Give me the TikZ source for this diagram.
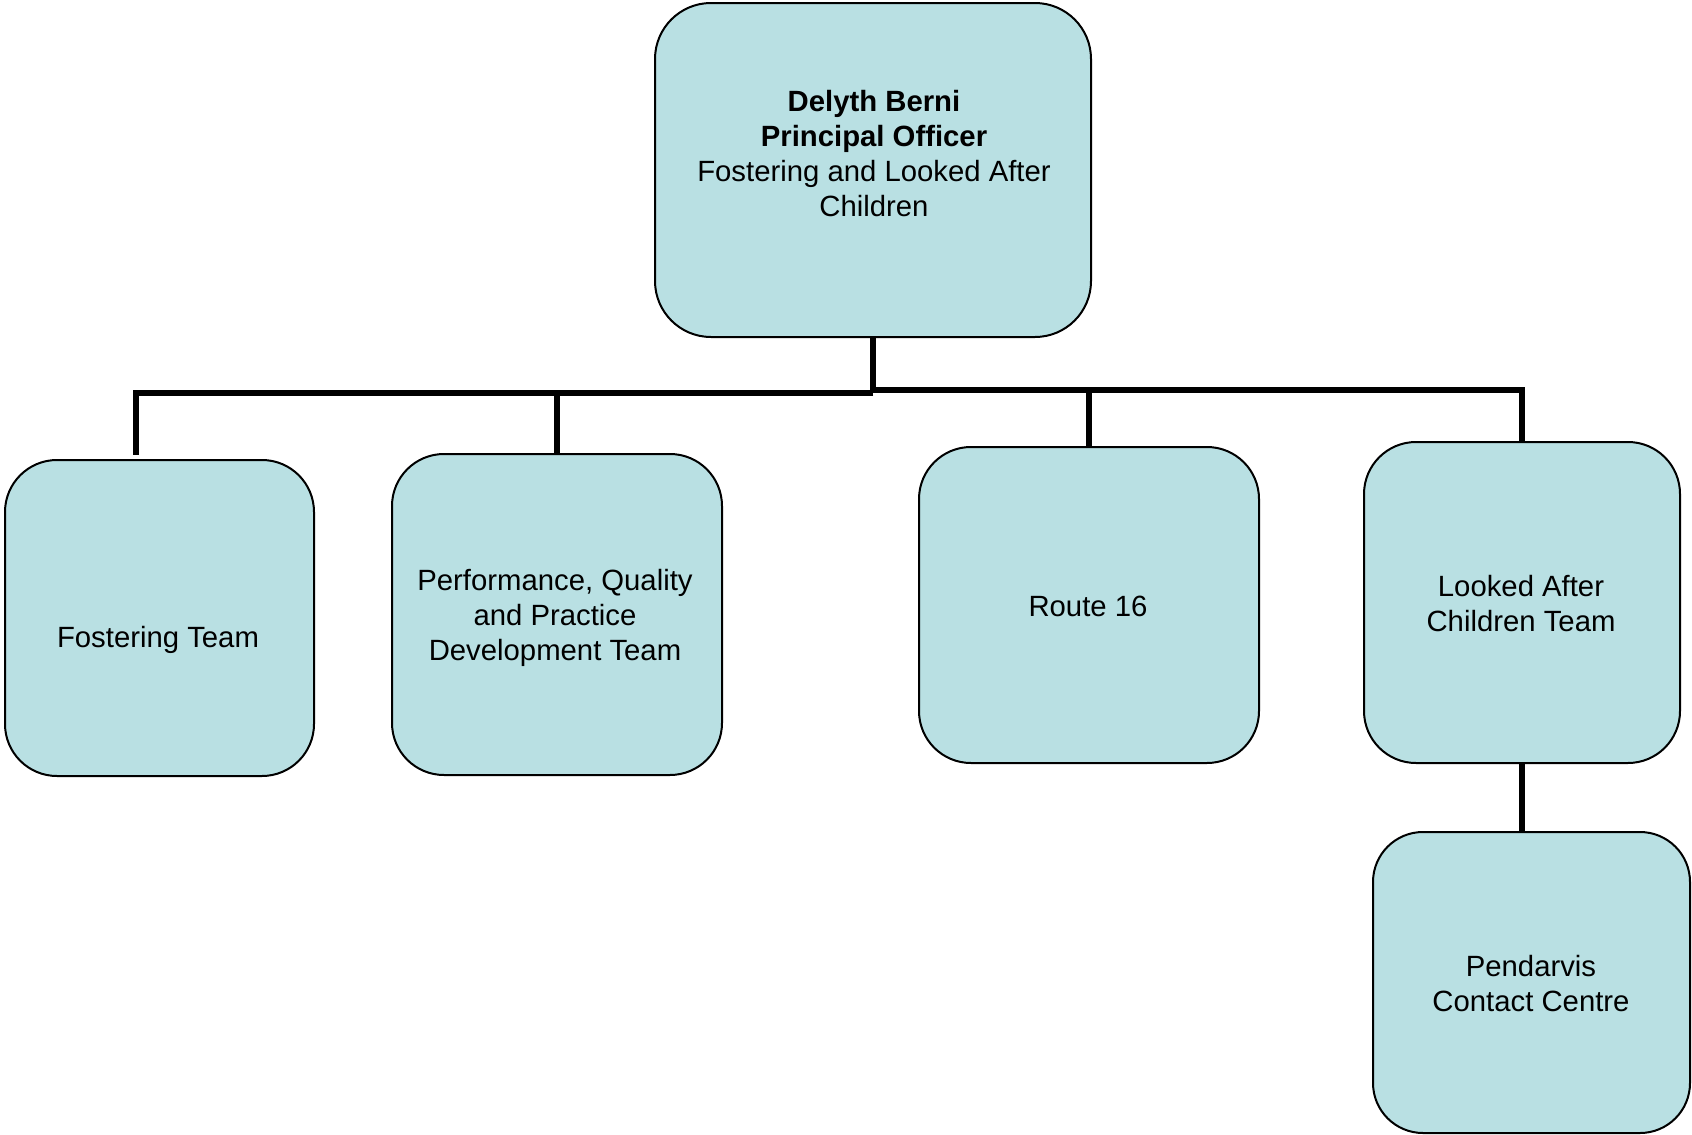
\documentclass[tikz,border=0pt]{standalone}
\usepackage{fontspec}
\setmainfont{Liberation Sans}
\definecolor{boxfill}{RGB}{185,224,227}
\begin{document}
\begin{tikzpicture}[x=0.5pt,y=-0.5pt,
  orgbox/.style={draw=black,line width=1pt,fill=boxfill,rounded corners=26pt,inner sep=0pt},
  lbl/.style={align=center,inner sep=0pt,font=\fontsize{14.65}{17.5}\selectfont},
  conn/.style={draw=black,line width=2.8pt}]
\useasboundingbox (0,0) rectangle (1692,1135);
% boxes
\node[orgbox,rounded corners=28pt,minimum width=218pt,minimum height=167pt] (top) at (873,170) {};
\node[orgbox,minimum width=154.5pt,minimum height=158pt] (fost) at (159.5,618) {};
\node[orgbox,minimum width=165pt,minimum height=160.5pt] (pqp) at (557,614.5) {};
\node[orgbox,minimum width=170pt,minimum height=158pt] (route) at (1089,605) {};
\node[orgbox,minimum width=158pt,minimum height=160.5pt] (lac) at (1522,602.5) {};
\node[orgbox,rounded corners=25pt,minimum width=158.5pt,minimum height=150.5pt] (pend) at (1531.5,982.5) {};
% labels
\node[lbl] (toplbl) at (874,154) {\textbf{Delyth Berni}\\\textbf{Principal Officer}\\Fostering and Looked After\\Children};
\node[lbl] (fostlbl) at (158,639.5) {Fostering Team};
\node[lbl] (pqplbl) at (555,618) {Performance, Quality\\and Practice\\Development Team};
\node[lbl] (routelbl) at (1088,606) {Route 16};
\node[lbl] (laclbl) at (1521,604) {Looked After\\Children Team};
\node[lbl] (pendlbl) at (1531,983.5) {Pendarvis\\Contact Centre};
% connectors
\coordinate (jl) at (873,393);
\coordinate (jr) at (873,390);
\coordinate (fend) at (136,455);
\draw[conn] (top.south) -- (jl);
\draw[conn] (jl) -| (fend);
\draw[conn] (jl) -| (pqp.north);
\draw[conn] (jr) -| (route.north);
\draw[conn] (jr) -| (lac.north);
\draw[conn] (lac.south) -- (lac.south |- pend.north);
\end{tikzpicture}
\end{document}
